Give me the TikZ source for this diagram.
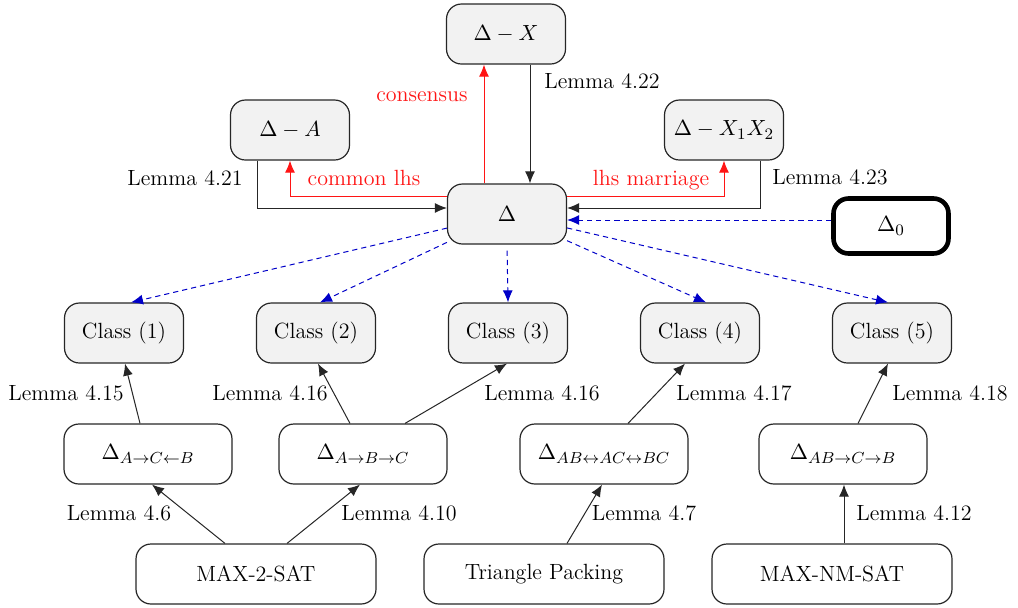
\documentclass[tikz,border=0pt]{standalone}
\usetikzlibrary{arrows.meta,calc}
\definecolor{boxgray}{RGB}{242,242,242}
\definecolor{edgered}{RGB}{255,20,20}
\definecolor{edgeblue}{RGB}{0,0,200}
\tikzset{
  txt/.style={font=\fontsize{11}{13}\selectfont},
  box/.style={txt, draw=black!85, rounded corners=7.5pt, minimum width=59.5pt, minimum height=30pt, line width=0.6pt, inner sep=0pt},
  gbox/.style={box, fill=boxgray},
  wbox/.style={box, fill=white, minimum width=84pt},
  pbox/.style={box, fill=white, minimum width=120pt},
  lbl/.style={txt, anchor=base, inner sep=0pt},
  arr/.style={-{Latex[length=6pt,width=5pt]}, line width=0.5pt, draw=black!85},
  redarr/.style={arr, draw=edgered},
  bluearr/.style={-{Latex[length=6pt,width=5pt]}, line width=0.5pt, draw=edgeblue, dash pattern=on 2.6pt off 2pt},
}
\begin{document}
\begin{tikzpicture}[x=0.5pt,y=-0.5pt]
\useasboundingbox (0,0) rectangle (1018,607);
% top nodes
\node[gbox] (dX) at (506,34) {$\Delta - X$};
\node[gbox] (dA) at (290,130) {$\Delta - A$};
\node[gbox] (dXX) at (724,130) {$\Delta - X_1X_2$};
\node[gbox] (D) at (507,214) {$\Delta$};
\node[box, fill=white, draw=black, line width=2.3pt, minimum width=57.5pt, minimum height=27.5pt] (D0) at (891,226) {$\Delta_0$};
% classes
\node[gbox] (c1) at (124,333) {Class (1)};
\node[gbox] (c2) at (316,333) {Class (2)};
\node[gbox] (c3) at (508,333) {Class (3)};
\node[gbox] (c4) at (700,333) {Class (4)};
\node[gbox] (c5) at (892,333) {Class (5)};
% middle row
\node[wbox] (a1) at (148,454) {$\Delta_{A\to C\leftarrow B}$};
\node[wbox] (a2) at (363,454) {$\Delta_{A\to B\to C}$};
\node[wbox] (a3) at (604,454) {$\Delta_{AB\leftrightarrow AC\leftrightarrow BC}$};
\node[wbox] (a4) at (843,454) {$\Delta_{AB\to C\to B}$};
% bottom row
\node[pbox] (m2) at (256,574) {MAX-2-SAT};
\node[pbox] (tp) at (544,574) {Triangle Packing};
\node[pbox] (nm) at (832,574) {MAX-NM-SAT};
% top connectors
\draw[arr] ($(dA.south)+(-33,0)$) |- ($(D.west)+(0,-6)$);
\draw[redarr] ($(D.west)+(0,-18)$) -| (dA.south);
\draw[redarr] ($(D.north)+(-23,0)$) -- ($(dX.south)+(-22,0)$);
\draw[arr] ($(dX.south)+(24,0)$) -- ($(D.north)+(23,0)$);
\draw[redarr] ($(D.east)+(0,-18)$) -| (dXX.south);
\draw[arr] ($(dXX.south)+(36,0)$) |- ($(D.east)+(0,-6)$);
\draw[bluearr] ($(D0.west)+(0,-6)$) -- ($(D.east)+(0,6)$);
% dashed to classes
\draw[bluearr] (D) -- ($(c1.north)+(7,0)$);
\draw[bluearr] (D) -- ($(c2.north)+(4,0)$);
\draw[bluearr, shorten <=3pt] (D.south) -- (c3.north);
\draw[bluearr] (D) -- ($(c4.north)+(6,0)$);
\draw[bluearr] (D) -- ($(c5.north)+(-4,0)$);
% lower connectors
\draw[arr] ($(a1.north)+(-8,0)$) -- ($(c1.south)+(1,0)$);
\draw[arr] ($(a2.north)+(-13,0)$) -- ($(c2.south)+(2,0)$);
\draw[arr] ($(a2.north)+(42,0)$) -- ($(c3.south)+(-1,0)$);
\draw[arr] ($(a3.north)+(24,0)$) -- ($(c4.south)+(-15,0)$);
\draw[arr] ($(a4.north)+(15,0)$) -- ($(c5.south)+(-4,0)$);
\draw[arr] ($(m2.north)+(-31,0)$) -- ($(a1.south)+(4,0)$);
\draw[arr] ($(m2.north)+(31,0)$) -- ($(a2.south)+(-3,0)$);
\draw[arr] ($(tp.north)+(23,0)$) -- ($(a3.south)+(-2,0)$);
\draw[arr] ($(nm.north)+(12,0)$) -- ($(a4.south)+(1,0)$);
% labels
\node[lbl] (l21) at (185,185) {Lemma 4.21};
\node[lbl, text=edgered] (lcl) at (364,185) {common lhs};
\node[lbl, text=edgered] (lcons) at (422,101) {consensus};
\node[lbl] (l22) at (602,88) {Lemma 4.22};
\node[lbl, text=edgered] (llm) at (651,185) {lhs marriage};
\node[lbl] (l23) at (830,184) {Lemma 4.23};
\node[lbl] (l15) at (66,400) {Lemma 4.15};
\node[lbl] (l16a) at (270,400) {Lemma 4.16};
\node[lbl] (l16b) at (542,400) {Lemma 4.16};
\node[lbl] (l17) at (734,400) {Lemma 4.17};
\node[lbl] (l18) at (950,400) {Lemma 4.18};
\node[lbl] (l6) at (119,520) {Lemma 4.6};
\node[lbl] (l10) at (399,520) {Lemma 4.10};
\node[lbl] (l7) at (644,520) {Lemma 4.7};
\node[lbl] (l12) at (914,520) {Lemma 4.12};
\end{tikzpicture}
\end{document}
